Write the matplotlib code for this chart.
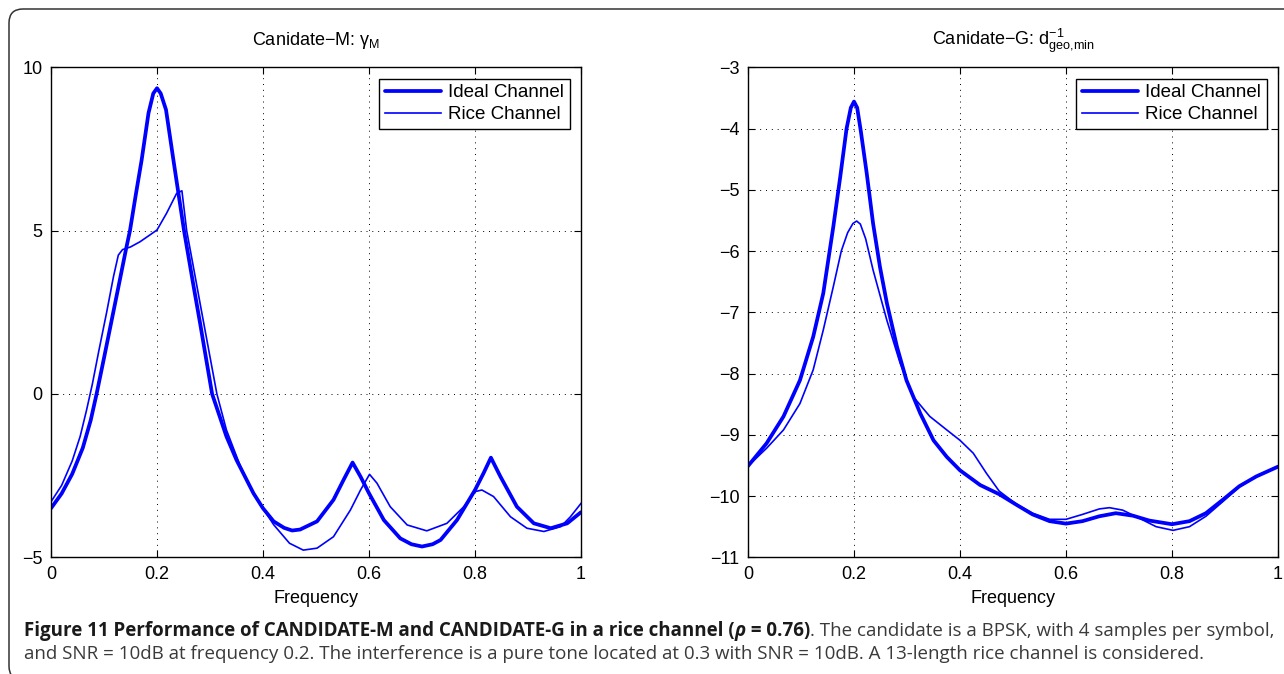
import numpy as np
import matplotlib
matplotlib.use('Agg')
import matplotlib.pyplot as plt
from matplotlib.patches import FancyBboxPatch

plt.rcParams['font.family'] = ['Liberation Sans', 'DejaVu Sans']
plt.rcParams['mathtext.fontset'] = 'custom'
plt.rcParams['mathtext.rm'] = 'Liberation Sans'
plt.rcParams['mathtext.it'] = 'Liberation Sans'
plt.rcParams['axes.unicode_minus'] = True

# ---- Candidate-M (gamma_M) ----
m_ideal_x = [0, 0.02, 0.04, 0.06, 0.075, 0.086, 0.1, 0.115, 0.13, 0.1415, 0.149, 0.16, 0.171,
             0.184, 0.193, 0.2, 0.207, 0.217, 0.231, 0.251, 0.269, 0.282, 0.294, 0.304, 0.331,
             0.35, 0.382, 0.4, 0.42, 0.44, 0.455, 0.47, 0.502, 0.533, 0.552, 0.569, 0.584, 0.6,
             0.628, 0.659, 0.68, 0.7, 0.72, 0.735, 0.766, 0.8, 0.816, 0.83, 0.848, 0.879, 0.911,
             0.943, 0.974, 1.0]
m_ideal_y = [-3.5, -3.05, -2.45, -1.65, -0.8, 0.0, 1.1, 2.3, 3.5, 4.43, 5.0, 6.1, 7.16,
             8.6, 9.2, 9.36, 9.2, 8.7, 7.16, 5.0, 3.3, 2.1, 0.95, 0.0, -1.3,
             -2.02, -3.04, -3.5, -3.9, -4.1, -4.18, -4.15, -3.9, -3.24, -2.63, -2.1, -2.53, -3.04,
             -3.86, -4.42, -4.6, -4.67, -4.6, -4.47, -3.86, -2.94, -2.43, -1.95, -2.53, -3.45, -3.96,
             -4.11, -3.96, -3.62]
m_rice_x = [0, 0.02, 0.04, 0.055, 0.067, 0.078, 0.09, 0.105, 0.118, 0.127, 0.135, 0.15, 0.168,
            0.185, 0.2, 0.218, 0.237, 0.247, 0.256, 0.269, 0.282, 0.294, 0.313, 0.331, 0.357,
            0.382, 0.4, 0.42, 0.45, 0.476, 0.502, 0.533, 0.565, 0.584, 0.601, 0.615, 0.64, 0.672,
            0.709, 0.747, 0.779, 0.8, 0.813, 0.835, 0.867, 0.898, 0.93, 0.962, 0.98, 1.0]
m_rice_y = [-3.3, -2.8, -2.05, -1.3, -0.5, 0.3, 1.3, 2.5, 3.6, 4.25, 4.42, 4.5, 4.66,
            4.85, 5.02, 5.53, 6.14, 6.22, 5.0, 3.86, 2.71, 1.66, 0.0, -1.1, -2.2,
            -3.05, -3.5, -4.0, -4.57, -4.78, -4.72, -4.37, -3.55, -2.94, -2.46, -2.73, -3.45, -4.01,
            -4.19, -3.96, -3.45, -2.99, -2.94, -3.14, -3.76, -4.11, -4.21, -4.06, -3.76, -3.35]

# ---- Candidate-G (d^-1_geo,min) ----
g_ideal_x = [0, 0.035, 0.067, 0.098, 0.123, 0.142, 0.161, 0.174, 0.186, 0.194, 0.2, 0.206,
             0.213, 0.224, 0.236, 0.249, 0.262, 0.281, 0.299, 0.325, 0.35, 0.375, 0.4, 0.438,
             0.474, 0.506, 0.537, 0.569, 0.6, 0.631, 0.663, 0.694, 0.726, 0.757, 0.8, 0.833,
             0.864, 0.896, 0.927, 0.959, 1.0]
g_ideal_y = [-9.51, -9.14, -8.7, -8.11, -7.4, -6.69, -5.6, -4.79, -4.0, -3.66, -3.56, -3.66,
             -4.05, -4.73, -5.55, -6.26, -6.85, -7.56, -8.11, -8.65, -9.09, -9.36, -9.58, -9.82,
             -9.97, -10.14, -10.3, -10.41, -10.45, -10.41, -10.33, -10.28, -10.32, -10.4, -10.46, -10.41,
             -10.28, -10.06, -9.84, -9.68, -9.52]
g_rice_x = [0, 0.035, 0.067, 0.098, 0.123, 0.142, 0.161, 0.176, 0.188, 0.198, 0.205, 0.212,
            0.222, 0.236, 0.262, 0.287, 0.312, 0.343, 0.375, 0.4, 0.425, 0.45, 0.474, 0.506,
            0.537, 0.569, 0.6, 0.631, 0.663, 0.682, 0.707, 0.738, 0.77, 0.802, 0.833, 0.864,
            0.896, 0.927, 0.959, 1.0]
g_rice_y = [-9.51, -9.22, -8.92, -8.49, -7.94, -7.29, -6.58, -6.0, -5.7, -5.55, -5.51, -5.56,
            -5.8, -6.31, -7.13, -7.83, -8.38, -8.7, -8.92, -9.09, -9.3, -9.63, -9.92, -10.13,
            -10.28, -10.38, -10.38, -10.3, -10.21, -10.19, -10.23, -10.36, -10.5, -10.56, -10.5, -10.33,
            -10.09, -9.85, -9.68, -9.52]

xticks = [0, 0.2, 0.4, 0.6, 0.8, 1]
xticklabels = ['0', '0.2', '0.4', '0.6', '0.8', '1']

W, H = 1284, 674
fig = plt.figure(figsize=(W / 100, H / 100), dpi=100)

# rounded frame around the whole figure
frame = FancyBboxPatch((9, -6), 1320, 665 + 6, boxstyle='round,pad=0,rounding_size=14',
                       transform=None, facecolor='none', edgecolor='#333333',
                       linewidth=1.1, clip_on=False)
fig.add_artist(frame)

ax1 = fig.add_axes([51 / W, 1 - 557.3 / H, 530 / W, 490 / H])
ax2 = fig.add_axes([748 / W, 1 - 557.3 / H, 530 / W, 490 / H])

panels = [
    (ax1, m_ideal_x, m_ideal_y, m_rice_x, m_rice_y, (-5, 10), [-5, 0, 5, 10],
     r'Canidate$-$M: $\mathregular{\gamma_M}$'),
    (ax2, g_ideal_x, g_ideal_y, g_rice_x, g_rice_y, (-11, -3), list(range(-11, -2)),
     r'Canidate$-$G: $\mathregular{d^{-1}_{geo{,}min}}$'),
]

for ax, ix, iy, rx, ry, ylim, yt, title in panels:
    ax.plot(ix, iy, color='#0000ff', linewidth=2.7, label='Ideal Channel',
            solid_joinstyle='round', solid_capstyle='round')
    ax.plot(rx, ry, color='#0000ff', linewidth=1.2, label='Rice Channel',
            solid_joinstyle='round')
    ax.set_xlim(0, 1)
    ax.set_ylim(*ylim)
    ax.set_xticks(xticks)
    ax.set_xticklabels(xticklabels)
    ax.set_yticks(yt)
    ax.grid(True, color='k', linewidth=0.7, linestyle=(0, (1, 5)))
    ax.tick_params(direction='in', top=True, right=True, length=5, width=0.8,
                   labelsize=13, pad=6)
    for s in ax.spines.values():
        s.set_linewidth(1.0)
    ax.set_xlabel('Frequency', fontsize=13, labelpad=5)
    ax.set_title(title, fontsize=13, pad=16)
    leg = ax.legend(loc='upper right', fontsize=13.5, fancybox=False, framealpha=1,
                    edgecolor='k', borderaxespad=0.6, borderpad=0.3, labelspacing=0.25,
                    handlelength=3.0, handletextpad=0.4)
    leg.get_frame().set_linewidth(1.0)

# caption with mixed bold / regular runs
cap_font = ['Open Sans', 'DejaVu Sans']
cap_size = 13.5
fig.canvas.draw()
renderer = fig.canvas.get_renderer()

line1 = [
    ('Figure 11 Performance of CANDIDATE-M and CANDIDATE-G in a rice channel (', 'bold', 'normal', '#1a1a1a'),
    ('\u03c1', 'bold', 'italic', '#1a1a1a'),
    (' = 0.76)', 'bold', 'normal', '#1a1a1a'),
    ('. The candidate is a BPSK, with 4 samples per symbol,', 'normal', 'normal', '#3a3a3a'),
]
line2 = [
    ('and SNR = 10dB at frequency 0.2. The interference is a pure tone located at 0.3 with '
     'SNR = 10dB. A 13-length rice channel is considered.', 'normal', 'normal', '#3a3a3a'),
]

for runs, base_y in [(line1, 1 - 636 / H), (line2, 1 - 659 / H)]:
    x = 24 / W
    for txt, weight, style, col in runs:
        t = fig.text(x, base_y, txt, fontsize=cap_size, family=cap_font, fontweight=weight,
                     fontstyle=style, color=col, va='baseline', ha='left')
        bb = t.get_window_extent(renderer)
        x = bb.x1 / W

fig.savefig('out.png', dpi=100)
